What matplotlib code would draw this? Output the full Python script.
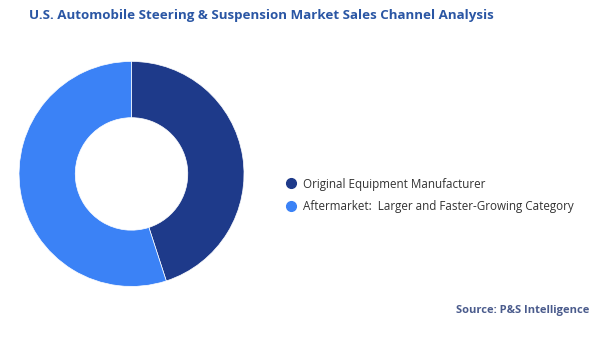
import matplotlib.pyplot as plt
from matplotlib.lines import Line2D

# Data
channels = ["Original Equipment Manufacturer", "Aftermarket:  Larger and Faster-Growing Category"]
shares = [45, 55]
colors = ["#1e3a8a", "#3b82f6"]

plt.rcParams['font.family'] = ['Open Sans', 'DejaVu Sans']

fig = plt.figure(figsize=(6, 3.37), dpi=100)
ax = fig.add_axes([0.0317, 0.1499, 0.375, 0.668])

ax.pie(shares, colors=colors, startangle=90, counterclock=False,
       wedgeprops=dict(width=0.5, edgecolor='white', linewidth=0.5))
ax.set_xlim(-1, 1)
ax.set_ylim(-1, 1)
ax.set_aspect('equal')

handles = [Line2D([0], [0], marker='o', linestyle='', markersize=7,
                  markerfacecolor=c, markeredgecolor=c) for c in colors]
fig.legend(handles, channels, loc='center left', bbox_to_anchor=(0.455, 0.42),
           frameon=False, fontsize=8.4, handletextpad=0.45, labelspacing=0.85,
           handlelength=1.2, labelcolor='#333333')

fig.text(0.435, 0.955, "U.S. Automobile Steering & Suspension Market Sales Channel Analysis",
         ha='center', va='center', fontsize=9.6, fontweight='bold', color='#2a56a4')
fig.text(0.983, 0.08, "Source: P&S Intelligence", ha='right', va='center',
         fontsize=8, fontweight='bold', color='#4a5b8c')

fig.savefig("out.png", dpi=100)
